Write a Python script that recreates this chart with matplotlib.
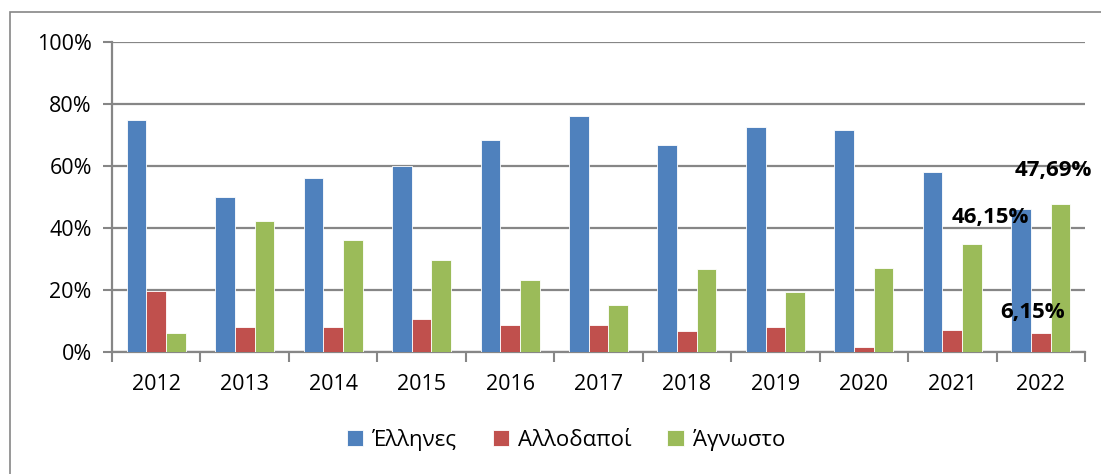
import matplotlib
matplotlib.use("Agg")
import matplotlib.pyplot as plt
import numpy as np
from matplotlib.patches import Rectangle
from matplotlib.ticker import FixedLocator, FuncFormatter

years = ["2012", "2013", "2014", "2015", "2016", "2017", "2018", "2019", "2020", "2021", "2022"]
greeks = [74.7, 50.0, 56.2, 60.0, 68.3, 76.1, 66.7, 72.6, 71.6, 58.14, 46.15]
foreigners = [19.6, 8.0, 8.0, 10.6, 8.7, 8.7, 6.8, 8.2, 1.6, 6.98, 6.15]
unknown = [6.0, 42.2, 36.0, 29.7, 23.2, 15.2, 26.8, 19.5, 27.0, 34.88, 47.69]
series_names = ["Έλληνες", "Αλλοδαποί", "Άγνωστο"]
colors = ["#4F81BD", "#C0504D", "#9BBB59"]
yticks = [0, 20, 40, 60, 80, 100]

plt.rcParams['font.family'] = ['Open Sans', 'DejaVu Sans']

W, H = 1101, 474
fig = plt.figure(figsize=(W / 100, H / 100), dpi=100)
ax = fig.add_axes([112 / W, 1 - 352 / H, (1085 - 112) / W, (352 - 42) / H])

x = np.arange(len(years))
bw = 0.222
data = [greeks, foreigners, unknown]
bars = []
for i, (vals, c, name) in enumerate(zip(data, colors, series_names)):
    b = ax.bar(x + (i - 1) * bw, vals, width=bw, color=c, label=name,
               edgecolor="#ffffff", linewidth=0.6, zorder=3)
    bars.append(b)

ax.set_xlim(-0.5, len(years) - 0.5)
ax.set_ylim(0, 100)
ax.set_yticks(yticks)
ax.yaxis.set_major_formatter(FuncFormatter(lambda v, p: f"{int(v)}%"))
ax.set_xticks(x)
ax.set_xticklabels(years)
ax.xaxis.set_minor_locator(FixedLocator(np.arange(-0.5, len(years), 1.0)))
ax.tick_params(axis='x', which='major', length=0, pad=16, labelsize=15.5)
ax.tick_params(axis='x', which='minor', length=7, width=1.5, color="#868686")
ax.tick_params(axis='y', which='major', length=6.5, width=1.5, color="#868686", labelsize=15.5, pad=8)
ax.grid(axis='y', color="#868686", linewidth=1.6, zorder=0)
for s in ['top', 'right']:
    ax.spines[s].set_visible(False)
for s in ['left', 'bottom']:
    ax.spines[s].set_color("#868686")
    ax.spines[s].set_linewidth(1.6)

# data labels for last year
last = len(years) - 1
lab_fmt = lambda v: f"{v:.2f}%".replace(".", ",")
ax.annotate(lab_fmt(greeks[last]), (x[last] - bw, greeks[last]), xytext=(-22, -6),
            textcoords="offset points", ha="center", va="center", fontsize=16, fontweight="bold", zorder=5)
ax.annotate(lab_fmt(foreigners[last]), (x[last], foreigners[last]), xytext=(-6, 14.5),
            textcoords="offset points", ha="center", va="center", fontsize=16, fontweight="bold", zorder=5)
ax.annotate(lab_fmt(unknown[last]), (x[last] + bw, unknown[last]), xytext=(-5, 24.5),
            textcoords="offset points", ha="center", va="center", fontsize=16, fontweight="bold", zorder=5)

fig.legend(handles=bars, labels=series_names, loc="center", bbox_to_anchor=(566 / W, 1 - 440 / H),
           ncol=3, frameon=False, fontsize=16, handlelength=0.75, handleheight=0.75,
           handletextpad=0.4, columnspacing=1.6)

# chart-area border (left and top edges visible, right/bottom cropped)
fig.patches.append(Rectangle((10 / W, -0.05), 1.2, 1 - 12 / H + 0.05, transform=fig.transFigure,
                             fill=False, edgecolor="#868686", linewidth=1.2))

fig.savefig("out.png", dpi=100)
